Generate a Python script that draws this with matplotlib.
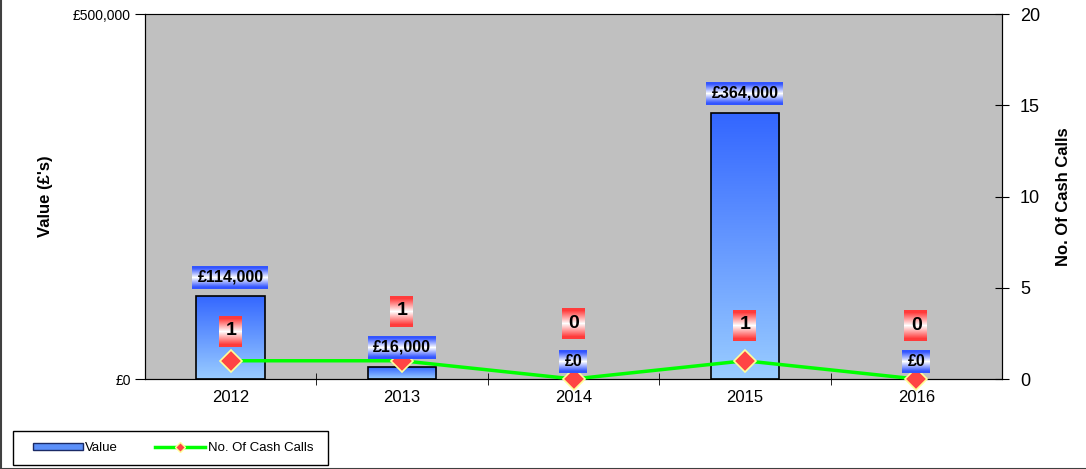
import numpy as np
import matplotlib
matplotlib.use("Agg")
import matplotlib.pyplot as plt
from matplotlib.colors import LinearSegmentedColormap
from matplotlib.patches import Rectangle
from matplotlib.lines import Line2D

plt.rcParams['font.family'] = ['Liberation Sans', 'DejaVu Sans']

# data
years = ['2012', '2013', '2014', '2015', '2016']
values = [114000, 16000, 0, 364000, 0]
cash_calls = [1, 1, 0, 1, 0]
value_labels = ['£114,000', '£16,000', '£0', '£364,000', '£0']

# label offsets in pixels (Excel moved some to avoid overlaps)
value_off = [19, 20, 18, 20, 18]
count_off = [30, 50, 56, 36, 54]

DPI = 100
fig = plt.figure(figsize=(10.86, 4.69), dpi=DPI)
fig.patch.set_facecolor('white')
ax = fig.add_axes([145 / 1086, 1 - 379 / 469, 857 / 1086, 365 / 469])
ax.set_facecolor('#c0c0c0')
x = np.arange(len(years))

# gradient bars
bar_cmap = LinearSegmentedColormap.from_list('bar', ['#99ccff', '#3366ff'])
edges = ['black' if v > 0 else 'none' for v in values]
bars = ax.bar(x, values, width=0.4, color='none', edgecolor=edges,
              linewidth=1.2, zorder=3)
grad = np.linspace(0, 1, 256).reshape(-1, 1)
for b in bars:
    if b.get_height() <= 0:
        continue
    im = ax.imshow(grad, cmap=bar_cmap, origin='lower', aspect='auto',
                   extent=[b.get_x(), b.get_x() + b.get_width(), 0, b.get_height()],
                   zorder=2)
    im.set_clip_path(b)
ax.set_xlim(-0.5, 4.5)
ax.set_ylim(0, 500000)
ax.set_yticks([0, 500000])
ax.set_yticklabels(['£0', '£500,000'], fontsize=10)
ax.set_xticks(x)
ax.set_xticklabels(years, fontsize=12)
ax.set_xticks(np.arange(0.5, 4.5, 1), minor=True)
ax.tick_params(axis='x', which='major', length=0, pad=8)
ax.tick_params(axis='x', which='minor', length=9, direction='inout')
ax.tick_params(axis='y', length=7, direction='out', pad=3)
ax.set_ylabel("Value (£'s)", fontsize=12, fontweight='bold')
ax.yaxis.set_label_coords(-92 / 857, 0.5)
ax.spines['top'].set_color('#808080')
for s in ['left', 'bottom', 'right']:
    ax.spines[s].set_color('black')

ax2 = ax.twinx()
ax2.set_ylim(0, 20)
ax2.set_yticks([0, 5, 10, 15, 20])
ax2.tick_params(axis='y', length=10, direction='inout', labelsize=13, pad=8)
ax2.set_ylabel('No. Of Cash Calls', fontsize=12, fontweight='bold')
ax2.yaxis.set_label_coords(911 / 857, 0.5)
ax2.plot(x, cash_calls, color='#00ff00', linewidth=2.5, zorder=3,
         marker='D', markersize=11, markerfacecolor='#ff4444',
         markeredgecolor='#ffff99', markeredgewidth=1.2, clip_on=False)

fig.canvas.draw()
renderer = fig.canvas.get_renderer()
H = fig.bbox.height


def grad_box(cx, cy, text, edge_col, fsize, padx, pady):
    t = fig.text(cx / fig.bbox.width, cy / H, text, ha='center', va='center',
                 fontsize=fsize, fontweight='bold', zorder=10)
    bb = t.get_window_extent(renderer)
    w = int(round(bb.width + 2 * padx))
    h = int(round(bb.height + 2 * pady))
    yy = np.clip(np.abs(np.linspace(-1, 1, h)) * 1.15, 0, 1)
    c0 = np.array([1.0, 1.0, 1.0])
    c1 = np.array(matplotlib.colors.to_rgb(edge_col))
    col = c0[None, :] * (1 - yy[:, None]) + c1[None, :] * yy[:, None]
    img = np.repeat(col[:, None, :], w, axis=1)
    fig.figimage(img, xo=int(cx - w / 2), yo=int(cy - h / 2), zorder=9,
                 origin='upper')


for i in range(len(years)):
    px, py = ax.transData.transform((x[i], values[i]))
    grad_box(px, py + value_off[i], value_labels[i], '#3355ff', 11.5, 5, 4)
    px, py = ax2.transData.transform((x[i], cash_calls[i]))
    grad_box(px, py + count_off[i], str(cash_calls[i]), '#ff3b3b', 14, 6, 7)

# legend
fig.add_artist(Rectangle((13 / 1086, 4 / 469), 315 / 1086, 34 / 469,
                         transform=fig.transFigure, facecolor='white',
                         edgecolor='black', linewidth=1.0))
bar_handle = Rectangle((0, 0), 1, 1, facecolor='#5b8ff9', edgecolor='#1a2a66')
line_handle = Line2D([], [], color='#00ff00', linewidth=2.5, marker='D',
                     markersize=5, markerfacecolor='#ff4444',
                     markeredgecolor='#ffff99')
leg = fig.legend([bar_handle, line_handle], ['Value', 'No. Of Cash Calls'],
                 loc='center', bbox_to_anchor=(173 / 1086, 21 / 469),
                 ncol=2, fontsize=9.5, frameon=False,
                 handlelength=3.8, handleheight=0.5,
                 handletextpad=0.2, columnspacing=2.8)

fig.add_artist(Rectangle((0.001, 0), 1.2, 1.2, transform=fig.transFigure,
                         fill=False, edgecolor='#404040', linewidth=1.5))

fig.savefig('out.png', dpi=DPI)
